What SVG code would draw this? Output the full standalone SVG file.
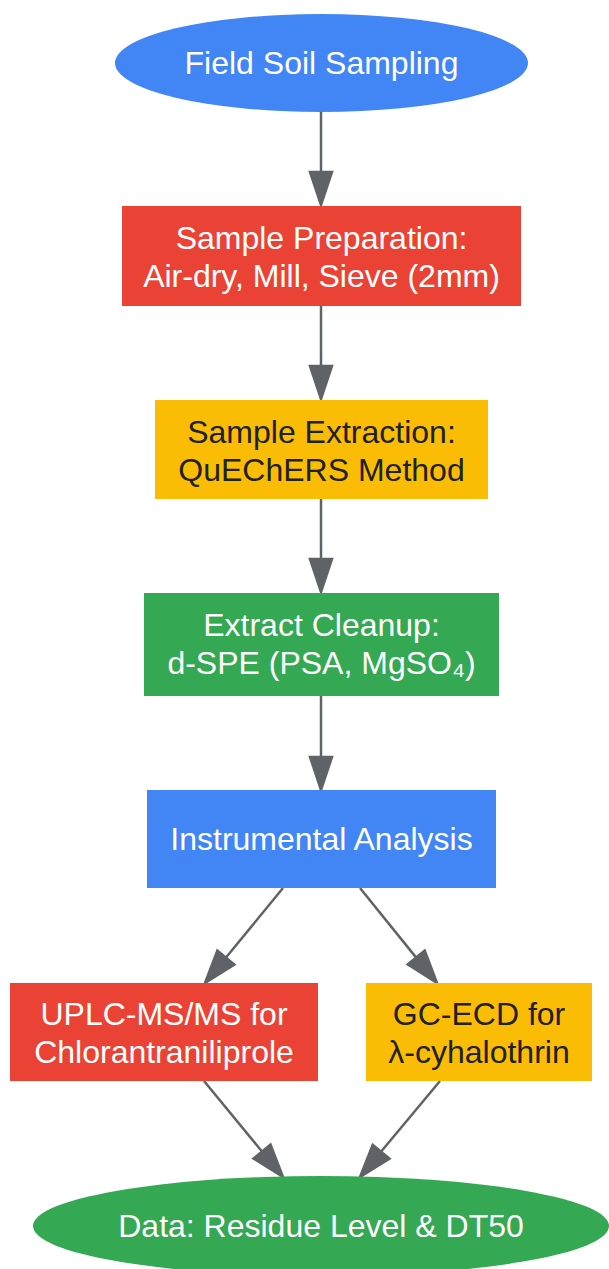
<svg xmlns="http://www.w3.org/2000/svg" width="609" height="1269" viewBox="0 0 609 1269">
<style>
text{font-family:"Liberation Sans",Arial,sans-serif;font-size:32px;text-anchor:middle}
.w{fill:#ffffff}
.d{fill:#202124}
.e line{stroke:#5f6368;stroke-width:2.5}
.e polygon{fill:#5f6368;stroke:#5f6368;stroke-width:2.5;stroke-linejoin:miter}
</style>
<rect width="609" height="1269" fill="#ffffff"/>
<g class="e" id="connectors">
<line x1="321" y1="112" x2="321" y2="172"/><polygon points="310,172 321,205 332,172"/>
<line x1="321" y1="306" x2="321" y2="366"/><polygon points="310,366 321,399 332,366"/>
<line x1="321" y1="499" x2="321" y2="559"/><polygon points="310,559 321,592 332,559"/>
<line x1="321" y1="696" x2="321" y2="757"/><polygon points="310,757 321,790 332,757"/>
<line x1="283" y1="888" x2="226" y2="957.5"/><polygon points="217.4,950.5 205,983 234.4,964.5"/>
<line x1="360" y1="888" x2="416" y2="957.4"/><polygon points="424.7,950.5 437,983 407.7,964.3"/>
<line x1="204" y1="1081" x2="262" y2="1151.5"/><polygon points="270.5,1144.5 283,1177 253.5,1158.5"/>
<line x1="440" y1="1081" x2="381" y2="1151.7"/><polygon points="389.5,1158.7 360,1177 372.7,1144.7"/>
</g>
<g id="field">
<ellipse cx="321.5" cy="63" rx="206.5" ry="49" fill="#4285f4"/>
<text class="w" x="321.5" y="74">Field Soil Sampling</text>
</g>
<g id="prep">
<rect x="122" y="206" width="399" height="100" fill="#ea4335"/>
<text class="w" x="321.5" y="249">Sample Preparation:</text>
<text class="w" x="321.5" y="287">Air-dry, Mill, Sieve (2mm)</text>
</g>
<g id="extract">
<rect x="155" y="400" width="333" height="99" fill="#fbbc05"/>
<text class="d" x="321.5" y="443">Sample Extraction:</text>
<text class="d" x="321.5" y="481">QuEChERS Method</text>
</g>
<g id="cleanup">
<rect x="144" y="593" width="355" height="103" fill="#34a853"/>
<text class="w" x="321.5" y="636">Extract Cleanup:</text>
<text class="w" x="321.5" y="674">d-SPE (PSA, MgSO₄)</text>
</g>
<g id="analysis">
<rect x="147" y="790" width="349" height="98" fill="#4285f4"/>
<text class="w" x="321.5" y="850">Instrumental Analysis</text>
</g>
<g id="uplc">
<rect x="10" y="983" width="308" height="98" fill="#ea4335"/>
<text class="w" x="164" y="1025">UPLC-MS/MS for</text>
<text class="w" x="164" y="1063">Chlorantraniliprole</text>
</g>
<g id="gcecd">
<rect x="366" y="983" width="226" height="98" fill="#fbbc05"/>
<text class="d" x="479" y="1025">GC-ECD for</text>
<text class="d" x="479" y="1063">λ-cyhalothrin</text>
</g>
<g id="data">
<ellipse cx="321" cy="1226" rx="288" ry="50" fill="#34a853"/>
<text class="w" x="321" y="1237">Data: Residue Level &amp; DT50</text>
</g>
</svg>
